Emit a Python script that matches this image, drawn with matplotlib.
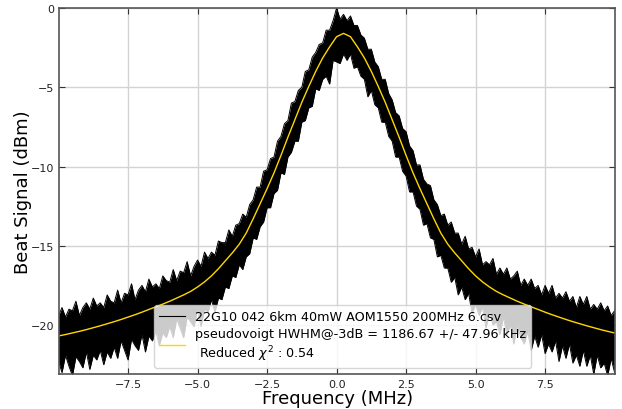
import numpy as np
import matplotlib
matplotlib.use("Agg")
import matplotlib.pyplot as plt

# ---- data ----
# measured trace: upper / lower envelope of the noisy signal (dBm), 0.125 MHz grid from -10 to 10
data_freq = np.linspace(-10.0, 10.0, 161)
data_upper = [
    -19.4, -18.9, -19.5, -19.0, -19.1, -18.5, -19.4, -18.9,
    -18.6, -19.0, -18.3, -18.8, -18.6, -18.9, -18.1, -18.5,
    -18.6, -17.8, -18.6, -18.0, -18.1, -17.4, -18.4, -17.8,
    -17.5, -17.9, -17.1, -17.6, -17.4, -17.7, -16.9, -17.2,
    -17.3, -16.5, -17.2, -16.6, -16.7, -16.0, -16.9, -16.3,
    -15.9, -16.3, -15.4, -15.8, -15.4, -15.6, -14.7, -14.8,
    -14.8, -14.0, -14.4, -13.7, -13.6, -13.0, -13.2, -12.4,
    -12.1, -11.3, -11.3, -10.3, -10.2, -9.5, -9.4, -8.4,
    -8.1, -7.3, -7.1, -6.0, -5.9, -5.2, -5.0, -4.0,
    -3.9, -3.1, -2.8, -2.3, -2.2, -1.4, -1.4, -0.8,
    0.0, -0.7, -0.4, -0.8, -0.5, -1.1, -1.1, -1.7,
    -1.9, -2.6, -2.6, -3.4, -3.7, -4.5, -4.5, -5.4,
    -5.8, -6.6, -6.8, -7.6, -7.8, -8.7, -9.0, -9.9,
    -9.9, -10.8, -11.1, -11.2, -12.1, -12.4, -13.1, -13.0,
    -13.7, -13.5, -14.2, -14.2, -14.9, -14.4, -15.2, -15.1,
    -15.7, -15.2, -16.2, -16.0, -16.2, -15.8, -16.8, -16.4,
    -16.8, -16.4, -17.1, -16.9, -16.6, -17.5, -17.1, -17.5,
    -17.1, -17.7, -17.5, -18.1, -17.5, -18.0, -17.5, -18.3,
    -18.0, -18.3, -17.9, -18.5, -18.2, -18.9, -18.2, -18.7,
    -18.2, -19.0, -18.7, -19.0, -18.6, -19.1, -18.8, -19.4,
    -19.1]
data_lower = [
    -22.3, -23.0, -21.9, -22.6, -23.2, -22.0, -22.3, -22.7,
    -21.7, -22.8, -21.9, -22.2, -21.6, -22.5, -21.7, -22.1,
    -21.4, -22.1, -21.0, -21.6, -22.2, -20.9, -21.3, -21.6,
    -20.6, -21.7, -20.7, -21.0, -20.4, -21.3, -20.5, -20.8,
    -20.1, -20.8, -19.6, -20.2, -20.8, -19.5, -19.8, -20.1,
    -19.0, -20.1, -19.0, -19.2, -18.4, -19.2, -18.3, -18.4,
    -17.6, -17.7, -16.9, -17.0, -16.2, -16.5, -15.7, -15.5,
    -14.5, -14.6, -13.8, -13.5, -12.6, -12.6, -11.7, -11.5,
    -10.4, -10.5, -9.4, -9.1, -8.4, -8.4, -7.2, -7.1,
    -6.3, -6.2, -5.1, -5.2, -4.5, -4.3, -4.8, -3.3,
    -3.4, -3.5, -2.9, -3.3, -2.9, -3.8, -3.7, -4.3,
    -4.5, -5.6, -5.2, -6.1, -6.3, -7.2, -7.2, -8.1,
    -8.4, -9.4, -9.4, -10.3, -10.6, -11.6, -11.6, -12.5,
    -12.7, -13.7, -13.6, -14.5, -14.6, -15.7, -15.6, -16.4,
    -16.4, -17.3, -17.0, -18.1, -17.6, -18.4, -18.0, -19.3,
    -18.7, -19.4, -18.9, -20.2, -19.1, -20.0, -19.8, -20.6,
    -19.5, -20.6, -20.0, -21.2, -20.0, -20.8, -21.2, -20.4,
    -21.6, -20.7, -21.4, -20.6, -21.8, -21.2, -21.7, -21.0,
    -22.3, -21.3, -22.1, -21.2, -22.4, -21.9, -22.6, -21.6,
    -22.6, -21.9, -23.1, -21.9, -22.7, -22.4, -23.2, -22.1,
    -23.0]

# pseudo-Voigt fit curve: centre and level (dBm) versus offset from centre (MHz)
fit_center = 0.25
fit_offset = [0.0, 0.25, 0.5, 0.75, 1.0, 1.25, 1.5, 1.75, 2.0, 2.25, 2.5, 2.75,
              3.0, 3.25, 3.5, 3.75, 4.0, 4.25, 4.5, 4.75, 5.0, 5.25, 5.5, 5.75,
              6.0, 6.25, 6.5, 6.75, 7.0, 7.25, 7.5, 7.75, 8.0, 8.25, 8.5, 8.75,
              9.0, 9.25, 9.5, 9.75, 10.0, 10.25, 10.5]
fit_db = [-1.60, -1.81, -2.45, -3.15, -4.00, -4.95, -5.95, -7.05, -8.15, -9.30,
          -10.40, -11.40, -12.35, -13.30, -14.20, -14.90, -15.45, -15.95, -16.45,
          -16.90, -17.28, -17.60, -17.88, -18.10, -18.30, -18.50, -18.68, -18.85,
          -19.02, -19.19, -19.35, -19.50, -19.65, -19.79, -19.92, -20.05, -20.17,
          -20.29, -20.40, -20.50, -20.60, -20.69, -20.78]

data_label = "22G10 042 6km 40mW AOM1550 200MHz 6.csv"
fit_label = "pseudovoigt HWHM@-3dB = 1186.67 +/- 47.96 kHz\n Reduced $\\chi^2$ : 0.54"

x_ticks = [-7.5, -5.0, -2.5, 0.0, 2.5, 5.0, 7.5]
y_ticks = [0, -5, -10, -15, -20]

# ---- figure ----
fig = plt.figure(figsize=(6.22, 4.10), dpi=100)
ax = fig.add_axes([0.095, 0.085, 0.894, 0.893])

off = np.array(fit_offset)
fdb = np.array(fit_db)
fit_x = np.concatenate([fit_center - off[::-1], fit_center + off[1:]])
fit_y = np.concatenate([fdb[::-1], fdb[1:]])

ax.fill_between(data_freq, data_lower, data_upper, color="black", linewidth=0)
ax.plot(data_freq, data_upper, color="black", lw=0.7)
ax.plot(data_freq, data_lower, color="black", lw=0.7)
h_data, = ax.plot([], [], color="black", lw=0.8, label=data_label)
h_fit, = ax.plot(fit_x, fit_y, color="gold", lw=1.0, label=fit_label)

ax.set_xlim(-9.98, 10.02)
ax.set_ylim(-23.1, 0)
ax.set_xticks(x_ticks)
ax.set_yticks(y_ticks)
ax.grid(True, color="#d3d3d3", lw=1.0)
ax.set_axisbelow(True)
ax.tick_params(direction="in", top=True, right=True, labelsize=8, length=4,
               colors="#333333", labelcolor="#222222")
for s in ax.spines.values():
    s.set_color("#555555")
    s.set_linewidth(1.2)

ax.set_xlabel("Frequency (MHz)", fontsize=13, labelpad=0)
ax.set_ylabel("Beat Signal (dBm)", fontsize=13, labelpad=-1)

leg = ax.legend(handles=[h_data, h_fit], loc="lower center", fontsize=9.2,
                framealpha=0.8, bbox_to_anchor=(0.51, 0.0), handlelength=2.0,
                borderpad=0.4, labelspacing=0.3)

fig.savefig("out.png", dpi=100)
